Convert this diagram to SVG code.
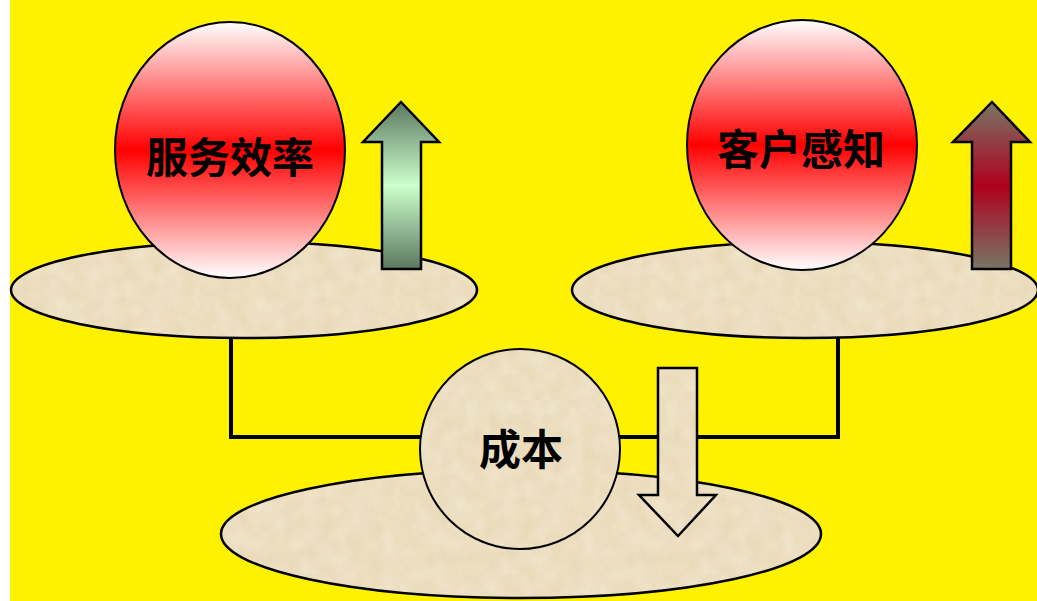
<svg xmlns="http://www.w3.org/2000/svg" width="1037" height="601" viewBox="0 0 1037 601">
<style>
.plate{fill:url(#sand);stroke:#000;stroke-width:2.5}
.ball{stroke:#000;stroke-width:2}
.arr{stroke:#000;stroke-width:2.5;stroke-linejoin:miter}
.conn{fill:none;stroke:#000;stroke-width:4}
.lbl{font-family:"Noto Sans CJK SC","Liberation Sans",sans-serif;font-weight:bold;font-size:42px;fill:#000;text-anchor:middle;dominant-baseline:central}
</style>
<defs>
<linearGradient id="redball" x1="0" y1="0" x2="0" y2="1">
<stop offset="0" stop-color="#FFFFFF"/>
<stop offset="0.5" stop-color="#FF0000"/>
<stop offset="1" stop-color="#FFFFFF"/>
</linearGradient>
<linearGradient id="greenarr" x1="0" y1="0" x2="0" y2="1">
<stop offset="0" stop-color="#5C7860"/>
<stop offset="0.5" stop-color="#CCFFCC"/>
<stop offset="1" stop-color="#5C7860"/>
</linearGradient>
<linearGradient id="redarr" x1="0" y1="0" x2="0" y2="1">
<stop offset="0" stop-color="#777766"/>
<stop offset="0.5" stop-color="#B0001E"/>
<stop offset="1" stop-color="#777766"/>
</linearGradient>
<filter id="grain" x="0" y="0" width="100%" height="100%">
<feTurbulence type="fractalNoise" baseFrequency="0.06" numOctaves="3" seed="4" result="n"/>
<feColorMatrix in="n" type="matrix" values="0 0 0 0 0.93  0 0 0 0 0.86  0 0 0 0 0.72  0 0 0 -1.2 1.05" result="c"/>
</filter>
<pattern id="sand" patternUnits="userSpaceOnUse" width="200" height="200">
<rect width="200" height="200" fill="#E8D8B6"/>
<rect width="200" height="200" fill="#F2E4C4" filter="url(#grain)" opacity="0.6"/>
</pattern>
</defs>
<rect x="0" y="0" width="1037" height="601" fill="#FFFFFF"/>
<rect x="10" y="0" width="1027" height="601" fill="#FFF200"/>
<g id="connectors">
<polyline class="conn" points="231,338 231,437 422,437"/>
<polyline class="conn" points="618,437 838,437 838,338"/>
</g>
<g id="plate-left"><ellipse class="plate" cx="244" cy="290" rx="233" ry="48"/></g>
<g id="plate-right"><ellipse class="plate" cx="805" cy="290" rx="233" ry="48"/></g>
<g id="plate-bottom"><ellipse class="plate" cx="521" cy="534" rx="300" ry="64"/></g>
<g id="node-service">
<ellipse class="ball" cx="230" cy="150" rx="115" ry="128" fill="url(#redball)"/>
<text class="lbl" x="230" y="154">服务效率</text>
</g>
<g id="node-customer">
<ellipse class="ball" cx="802" cy="145" rx="115" ry="125" fill="url(#redball)"/>
<text class="lbl" x="801" y="146">客户感知</text>
</g>
<g id="node-cost">
<circle class="ball" cx="520" cy="449" r="100" fill="url(#sand)"/>
<text class="lbl" x="521" y="446">成本</text>
</g>
<g id="arrow-up-green">
<polygon class="arr" fill="url(#greenarr)" points="401,102 439,142 421,142 421,269 382,269 382,142 363,142"/>
</g>
<g id="arrow-up-red">
<polygon class="arr" fill="url(#redarr)" points="992,102 1030,142 1011,142 1011,269 972,269 972,142 953,142"/>
</g>
<g id="arrow-down">
<polygon class="arr" fill="url(#sand)" points="658,368 697,368 697,495 716,495 678,536 639,495 658,495"/>
</g>
</svg>
